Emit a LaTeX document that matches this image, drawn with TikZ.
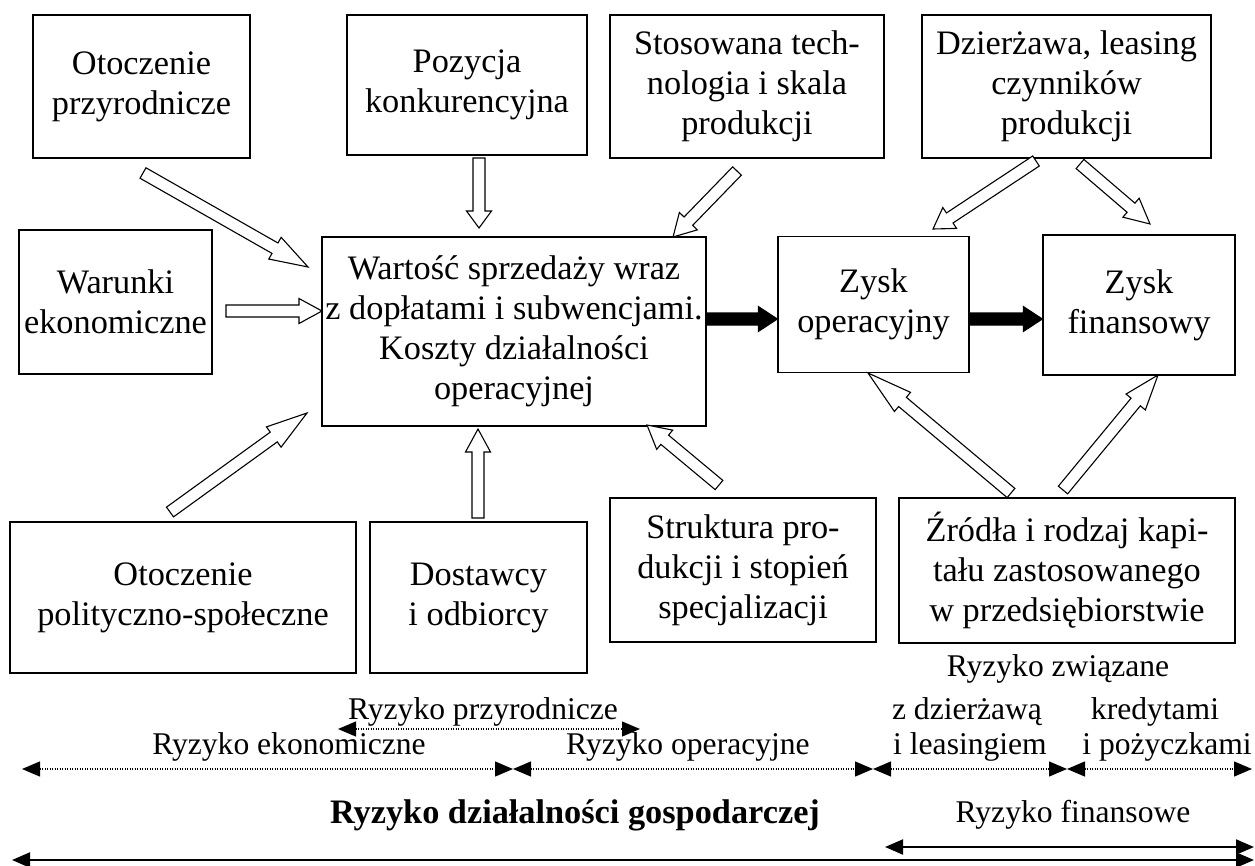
\documentclass[tikz,border=0pt]{standalone}
\usepackage{fontspec}
\setmainfont{Liberation Serif}
\usetikzlibrary{arrows.meta,calc}

\newcommand\boxfont{\fontsize{34.3}{40}\selectfont}
\newcommand\labfont{\fontsize{31.6}{39}\selectfont}
\newcommand\headfont{\fontsize{34.3}{40}\selectfont\bfseries}

% Block arrow drawn as an outlined polygon: [fill]{from}{to}{head length}
\newcommand\blockarrow[4][white]{%
  \path let \p1=(#2), \p2=(#3),
    \n1={atan2(\y2-\y1,\x2-\x1)}, \n2={veclen(\x2-\x1,\y2-\y1)} in
    \pgfextra{\xdef\baang{\n1}\xdef\balen{\n2}\xdef\bax{\x1}\xdef\bay{\y1}};
  \draw[blockline, fill=#1, shift={(\bax,\bay)}, rotate=\baang]
    (0,-6) -- (\balen-#4,-6) -- (\balen-#4,-12.5) -- (\balen,0)
    -- (\balen-#4,12.5) -- (\balen-#4,6) -- (0,6) -- cycle;
}

\tikzset{
  panel/.style={draw, line width=1.4pt, align=center, inner sep=0pt, font=\boxfont},
  blockline/.style={line width=1.1pt, line join=miter},
  risktext/.style={font=\labfont, inner sep=0pt, anchor=base},
  riskspan/.style={line width=1.2pt, dash pattern=on 1.2pt off 1.3pt,
    {Triangle[length=18pt,width=15pt]}-{Triangle[length=18pt,width=15pt]}},
  riskarrow/.style={line width=2pt,
    {Triangle[length=18pt,width=15pt]}-{Triangle[length=18pt,width=15pt]}}
}

\begin{document}
\begin{tikzpicture}[x=1pt, y=-1pt]
\useasboundingbox (0,0) rectangle (1255,865);

% ---- factor boxes ----
\node[panel, minimum width=217pt, minimum height=143pt] (oprz) at (141.5,86.5) {Otoczenie\\przyrodnicze};
\node[panel, minimum width=240pt, minimum height=140pt] (poz) at (467,85) {Pozycja\\konkurencyjna};
\node[panel, minimum width=274pt, minimum height=143pt] (stos) at (747,86.5) {Stosowana tech-\\nologia i skala\\produkcji};
\node[panel, minimum width=289pt, minimum height=143pt] (dzier) at (1066.5,86.5) {Dzierżawa, leasing\\czynników\\produkcji};
\node[panel, minimum width=193pt, minimum height=144pt] (war) at (115.5,302) {Warunki\\ekonomiczne};
\node[panel, minimum width=384pt, minimum height=189pt] (sales) at (514,331.5) {Wartość sprzedaży wraz\\z dopłatami i subwencjami.\\Koszty działalności\\operacyjnej};
\node[panel, minimum width=191pt, minimum height=136pt] (zop) at (873.5,304.5) {Zysk\\operacyjny};
\node[panel, minimum width=192pt, minimum height=140pt] (zfin) at (1139,305) {Zysk\\finansowy};
\node[panel, minimum width=346pt, minimum height=151pt] (polit) at (183,597.5) {Otoczenie\\polityczno-społeczne};
\node[panel, minimum width=217pt, minimum height=151pt] (dost) at (478.5,597.5) {Dostawcy\\i odbiorcy};
\node[panel, minimum width=266pt, minimum height=144pt] (strukt) at (743,570) {Struktura pro-\\dukcji i stopień\\specjalizacji};
\node[panel, minimum width=336pt, minimum height=145pt] (zrodla) at (1067,570.5) {Źródła i rodzaj kapi-\\tału zastosowanego\\w przedsiębiorstwie};

% ---- arrow end points ----
\coordinate (a1s) at (143,173);  \coordinate (a1e) at (308,267);
\coordinate (a2s) at (479,158);  \coordinate (a2e) at (479,228);
\coordinate (a3s) at (737,171);  \coordinate (a3e) at (673,237);
\coordinate (a4s) at (226,311);  \coordinate (a4e) at (322,311);
\coordinate (a5s) at (170,512);  \coordinate (a5e) at (307,413);
\coordinate (a6s) at (478,518);  \coordinate (a6e) at (478,429);
\coordinate (a7s) at (719,485);  \coordinate (a7e) at (647,425);
\coordinate (a8s) at (1036,161); \coordinate (a8e) at (933,229);
\coordinate (a9s) at (1080,164); \coordinate (a9e) at (1150,224);
\coordinate (a10s) at (1011,493); \coordinate (a10e) at (868,373);
\coordinate (a11s) at (1063,490); \coordinate (a11e) at (1158,375);
\coordinate (b1s) at (sales.east |- 0,319); \coordinate (b1e) at (zop.west |- 0,319);
\coordinate (b2s) at (zop.east |- 0,319);   \coordinate (b2e) at (zfin.west |- 0,319);

% ---- hollow influence arrows ----
\blockarrow{a1s}{a1e}{38}
\blockarrow{a2s}{a2e}{17}
\blockarrow{a3s}{a3e}{22}
\blockarrow{a4s}{a4e}{23}
\blockarrow{a5s}{a5e}{41}
\blockarrow{a6s}{a6e}{23}
\blockarrow{a7s}{a7e}{23}
\blockarrow{a8s}{a8e}{20}
\blockarrow{a9s}{a9e}{25}
\blockarrow{a10s}{a10e}{45}
\blockarrow{a11s}{a11e}{35}

% ---- solid result arrows ----
\blockarrow[black]{b1s}{b1e}{19}
\blockarrow[black]{b2s}{b2e}{19}

% ---- risk labels ----
\node[risktext] (lzw) at (1058,676) {Ryzyko związane};
\node[risktext] (ldz) at (967,719) {z dzierżawą};
\node[risktext] (lkr) at (1155,719) {kredytami};
\node[risktext] (lprz) at (483,719) {Ryzyko przyrodnicze};
\node[risktext] (lek) at (289,754) {Ryzyko ekonomiczne};
\node[risktext] (lop) at (688,754) {Ryzyko operacyjne};
\node[risktext] (lle) at (970,754) {i leasingiem};
\node[risktext] (lpo) at (1167,754) {i pożyczkami};
\node[risktext, font=\headfont] (lgos) at (575,823) {Ryzyko działalności gospodarczej};
\node[risktext] (lfin) at (1073,822) {Ryzyko finansowe};

% ---- risk ranges ----
\coordinate (p0) at (338,729);  \coordinate (p1) at (640,729);
\coordinate (r0) at (22,769);   \coordinate (r1) at (513,769);
\coordinate (r2) at (873,769);  \coordinate (r3) at (1067,769);
\coordinate (r4) at (1252,769);
\coordinate (f0) at (885,847);  \coordinate (f1) at (1254,847);
\coordinate (g0) at (12,860);   \coordinate (g1) at (1254,860);

\draw[riskspan] (p0) -- (p1);
\draw[riskspan] (r0) -- (r1);
\draw[riskspan] (r1) -- (r2);
\draw[riskspan] (r2) -- (r3);
\draw[riskspan] (r3) -- (r4);
\draw[riskarrow] (f0) -- (f1);
\draw[riskarrow] (g0) -- (g1);
\end{tikzpicture}
\end{document}
